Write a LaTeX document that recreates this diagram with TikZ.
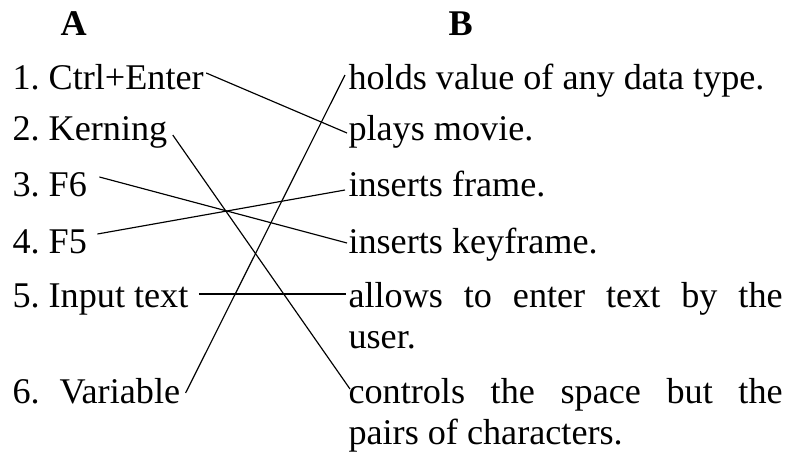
\documentclass[tikz,border=0pt]{standalone}
\usepackage{fontspec}
\setmainfont{Liberation Serif}
\usepackage{tikz}
\frenchspacing

\tikzset{
	item/.style={anchor=base west, inner sep=0pt, font=\fontsize{14}{16}\selectfont},
	head/.style={anchor=base west, inner sep=0pt, font=\fontsize{14}{16}\selectfont\bfseries},
	longitem/.style={item, text width=168pt, align=justify},
	link/.style={line width=0.45pt},
}

\begin{document}
\begin{tikzpicture}[x=0.387pt, y=-0.387pt]

	\useasboundingbox (0,0) rectangle (792,452);

	\node[head] (headA) at (60,35) {A};
	\node[head] (headB) at (448,35) {B};

	\node[item] (a1) at (12,89) {1. Ctrl+Enter};
	\node[item] (a2) at (12,140) {2. Kerning};
	\node[item] (a3) at (12,196) {3. F6};
	\node[item] (a4) at (12,253) {4. F5};
	\node[item] (a5) at (12,307) {5. Input text};
	\node[item] (a6) at (12,403) {6.\hspace{0.55em}Variable};

	\node[item] (b1) at (348,89) {holds value of any data type.};
	\node[item] (b2) at (348,140) {plays movie.};
	\node[item] (b3) at (348,196) {inserts frame.};
	\node[item] (b4) at (348,253) {inserts keyframe.};
	\node[longitem] (b5) at (348,307) {allows to enter text by the\linebreak user.};
	\node[longitem] (b6) at (348,403) {controls the space but the\linebreak pairs of characters.};

	\draw[link] ([shift={(2,-16)}]a1.base east) -- ([shift={(-1,-7)}]b2.base west);
	\draw[link] ([shift={(5,-5)}]a2.base east) -- ([shift={(2,-14)}]b6.base west);
	\draw[link] ([shift={(12,-19)}]a3.base east) -- ([shift={(-1,-10)}]b4.base west);
	\draw[link] ([shift={(10,-19)}]a4.base east) -- ([shift={(-3,-6)}]b3.base west);
	\draw[link] ([shift={(10,-13)}]a5.base east) -- ([shift={(-2,-13)}]b5.base west);
	\draw[link] ([shift={(5,-10)}]a6.base east) -- ([shift={(-3,-14)}]b1.base west);

\end{tikzpicture}
\end{document}
